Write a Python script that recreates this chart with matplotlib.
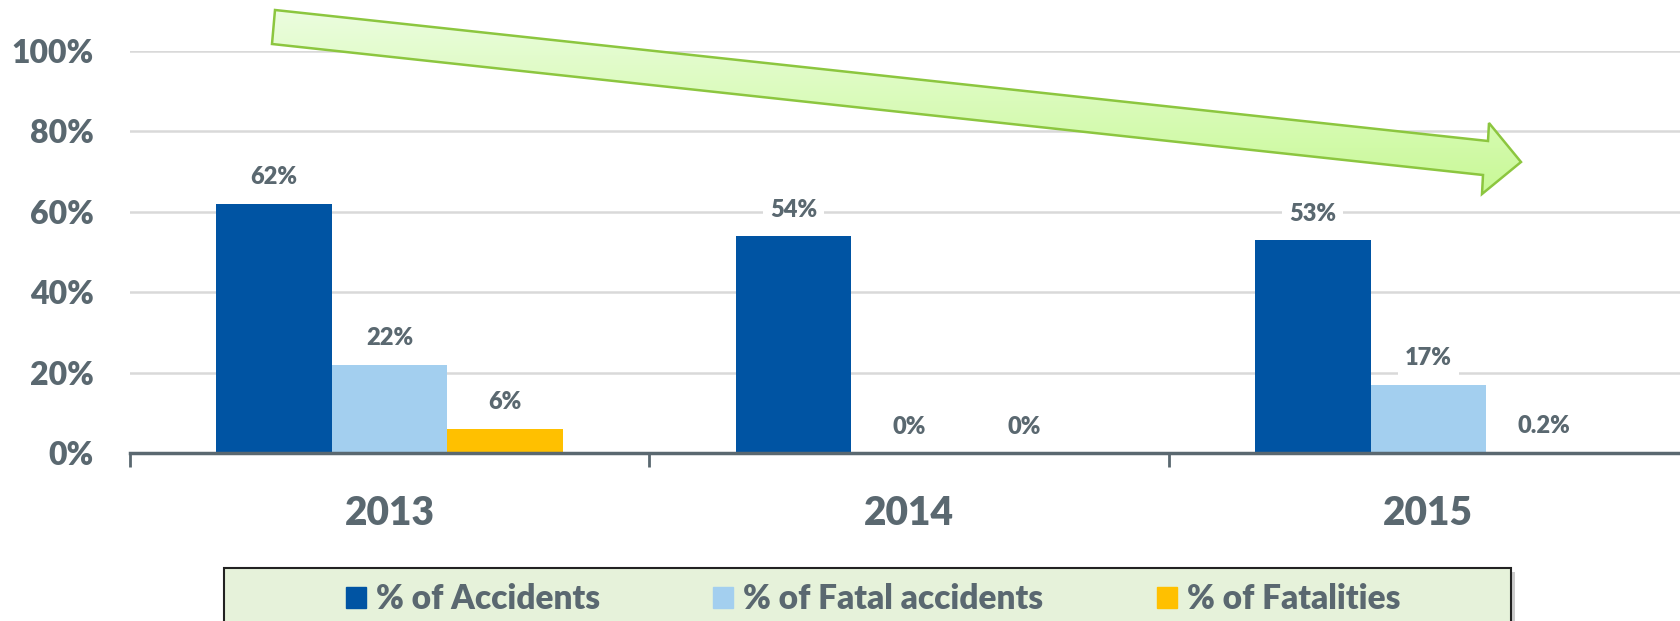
import matplotlib.pyplot as plt
import numpy as np
from matplotlib.patches import Polygon, Rectangle, Patch
from matplotlib.colors import LinearSegmentedColormap

# data
years = ['2013', '2014', '2015']
accidents = [62, 54, 53]
fatal_accidents = [22, 0, 17]
fatalities = [6, 0, 0.2]
series_names = ['% of Accidents', '% of Fatal accidents', '% of Fatalities']
colors = ['#0054a3', '#a3cfef', '#ffc000']

txt = '#5a6870'
wt = 'heavy'
plt.rcParams['font.family'] = ['Lato', 'DejaVu Sans']
plt.rcParams['font.weight'] = wt

fig = plt.figure(figsize=(16.8, 6.21), dpi=100)
ax = fig.add_axes([130 / 1680, 1 - 453 / 621, 1558 / 1680, (453 - 51) / 621])

x = np.arange(len(years))
w = 0.2225
for i, vals in enumerate([accidents, fatal_accidents, fatalities]):
    pos = x + (i - 1) * w
    ax.bar(pos, vals, width=w, color=colors[i], zorder=2)
    for px, v in zip(pos, vals):
        ax.annotate(f'{v:g}%', (px, v), xytext=(0, 19), textcoords='offset points',
                    ha='center', va='center', fontsize=17, color=txt, fontweight=wt,
                    bbox=dict(boxstyle='square,pad=0.3', fc='white', ec='none'), zorder=3)

ax.set_xlim(-0.5, 2.5)
ax.set_ylim(0, 100)
ax.set_yticks([0, 20, 40, 60, 80, 100])
ax.set_yticklabels([f'{t}%' for t in [0, 20, 40, 60, 80, 100]])
ax.set_xticks(x)
ax.set_xticklabels(years)
ax.set_xticks([-0.5, 0.5, 1.5, 2.5], minor=True)
ax.tick_params(axis='x', which='major', length=0, pad=30, labelsize=28, labelcolor=txt)
ax.tick_params(axis='x', which='minor', length=10, width=2, color=txt)
ax.tick_params(axis='y', length=0, pad=26, labelsize=23, labelcolor=txt)
for l in ax.get_xticklabels() + ax.get_yticklabels():
    l.set_fontweight(wt)
ax.grid(axis='y', color='#d9d9d9', linewidth=1.8, zorder=0)
ax.set_axisbelow(True)
for s in ['top', 'right', 'left']:
    ax.spines[s].set_visible(False)
ax.spines['bottom'].set_color(txt)
ax.spines['bottom'].set_linewidth(2.5)
ax.spines['bottom'].set_zorder(4)

# overlay in pixel coords for arrow and legend box
ov = fig.add_axes([0, 0, 1, 1], zorder=5)
ov.axis('off')
ov.patch.set_alpha(0)

arrow_pts = [(275, 10), (272, 44), (1483, 175), (1482, 194), (1521, 162), (1489, 123), (1488, 141)]
ov.add_patch(Polygon(arrow_pts, closed=True, fc='none', ec='#8cc63f', lw=1.8, zorder=3))
grad = np.linspace(0, 1, 256).reshape(-1, 1)
cm = LinearSegmentedColormap.from_list('g', ['#ecfde0', '#c8f995'])
im = ov.imshow(grad, cmap=cm, extent=(270, 1525, 195, 8), aspect='auto', zorder=2)
im.set_clip_path(Polygon(arrow_pts, closed=True, transform=ov.transData))

# legend box with shadow
ov.add_patch(Rectangle((228, 572), 1287, 80, fc='#9a9a9a', ec='none', alpha=0.5, zorder=1))
ov.add_patch(Rectangle((224, 568), 1287, 80, fc='#e6f2da', ec='#222222', lw=1.5, zorder=2))
ov.set_xlim(0, 1680)
ov.set_ylim(621, 0)

handles = [Patch(color=c) for c in colors]
leg = fig.legend(handles, series_names, loc='center', bbox_to_anchor=(873 / 1680, 1 - 599 / 621),
                 ncol=3, frameon=False, handlelength=0.6, handleheight=0.6,
                 handletextpad=0.3, columnspacing=3.4, labelcolor=txt,
                 prop={'weight': wt, 'size': 24})
leg.set_zorder(10)

fig.savefig('out.png', dpi=100)
